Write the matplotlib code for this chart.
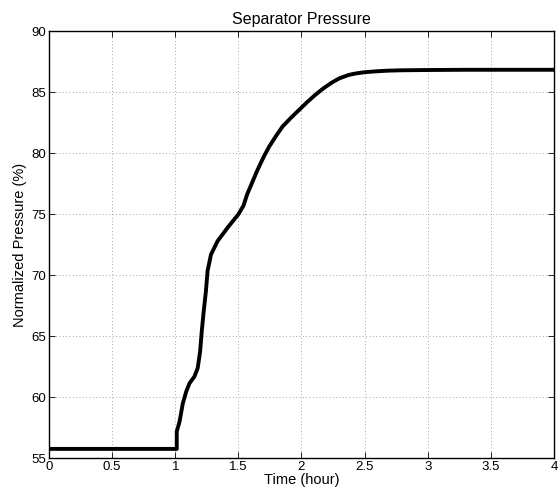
import matplotlib.pyplot as plt

# Separator pressure readings
time_h = [0.0, 1.0, 1.012, 1.012, 1.034, 1.06, 1.087, 1.113, 1.152, 1.178,
          1.197, 1.21, 1.225, 1.243, 1.256, 1.283, 1.335, 1.414, 1.5, 1.54,
          1.57, 1.65, 1.7, 1.744, 1.8, 1.85, 1.92, 2.0, 2.05, 2.11, 2.17,
          2.24, 2.3, 2.375, 2.43, 2.5, 2.6, 2.69, 2.8, 3.0, 3.3, 4.0]
pressure = [55.77, 55.77, 55.77, 57.2, 58.0, 59.5, 60.47, 61.15, 61.7, 62.4,
            63.75, 65.4, 67.0, 68.7, 70.35, 71.7, 72.8, 73.9, 75.0, 75.7,
            76.65, 78.6, 79.7, 80.55, 81.45, 82.2, 82.95, 83.75, 84.25, 84.8, 85.3,
            85.8, 86.15, 86.43, 86.55, 86.65, 86.73, 86.78, 86.81, 86.83, 86.85, 86.85]

plt.rcParams['font.family'] = ['Liberation Sans', 'DejaVu Sans']

fig = plt.figure(figsize=(5.58, 4.93), dpi=100)
ax = fig.add_axes([0.0878, 0.0704, 0.905, 0.866])

ax.plot(time_h, pressure, color='black', linewidth=2.8, solid_joinstyle='round')

ax.set_xlim(0, 4)
ax.set_ylim(55, 90)
ax.set_xticks([0, 0.5, 1, 1.5, 2, 2.5, 3, 3.5, 4])
ax.set_xticklabels(['0', '0.5', '1', '1.5', '2', '2.5', '3', '3.5', '4'])
ax.set_yticks([55, 60, 65, 70, 75, 80, 85, 90])

ax.grid(True, linestyle=(0, (1, 3)), color='#888888', linewidth=0.6)
ax.tick_params(direction='in', top=True, right=True, length=4, width=0.6,
               labelsize=9.5, pad=2)
for s in ax.spines.values():
    s.set_linewidth(1.0)

ax.set_title('Separator Pressure', fontsize=11.5, pad=5)
ax.set_xlabel('Time (hour)', fontsize=10.5, labelpad=0)
ax.set_ylabel('Normalized Pressure (%)', fontsize=10.5, labelpad=3)

fig.savefig('out.png', dpi=100)
